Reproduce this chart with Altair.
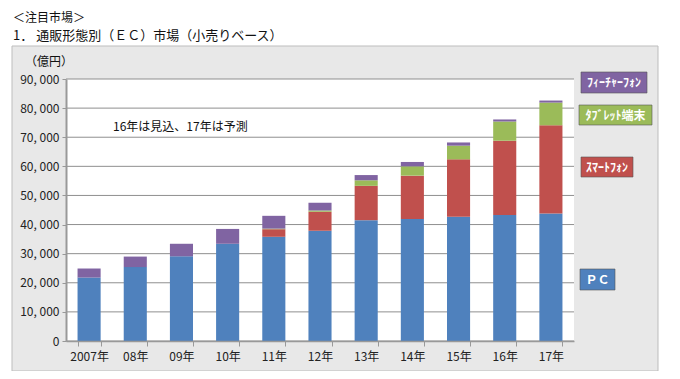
import altair as alt
import pandas as pd

years = ["2007年", "08年", "09年", "10年", "11年", "12年", "13年", "14年", "15年", "16年", "17年"]
pc = [21800, 25400, 29100, 33400, 35800, 37900, 41500, 41900, 42700, 43300, 43800]
smartphone = [0, 0, 0, 0, 2600, 6500, 11800, 14900, 19700, 25500, 30300]
tablet = [0, 0, 0, 0, 200, 400, 1900, 3200, 4700, 6600, 7800]
feature = [3100, 3600, 4300, 5100, 4400, 2700, 1800, 1500, 1100, 700, 700]
series = ["ＰＣ", "ｽﾏｰﾄﾌｫﾝ", "ﾀﾌﾞﾚｯﾄ端末", "ﾌｨｰﾁｬｰﾌｫﾝ"]
colors = ["#4F81BD", "#C0504D", "#9BBB59", "#8064A2"]
y_ticks = [0, 10000, 20000, 30000, 40000, 50000, 60000, 70000, 80000, 90000]

title1 = "＜注目市場＞"
title2 = "1． 通販形態別（ＥＣ）市場（小売りベース）"
unit = "（億円）"
note = "16年は見込、17年は予測"

FONT = "Noto Sans CJK JP"
W, H = 508, 262

rows = []
for i, y in enumerate(years):
    for j, (s, vals) in enumerate(zip(series, [pc, smartphone, tablet, feature])):
        rows.append({"year": y, "series": s, "value": vals[i], "order": j})
df = pd.DataFrame(rows)
gdf = pd.DataFrame({"value": y_ticks})

yscale = alt.Scale(domain=[0, 90000], nice=False, zero=True)
yaxis = alt.Axis(values=y_ticks, grid=False, tickSize=4, tickColor="#999",
                 domainColor="#999", domainWidth=2, labelPadding=3,
                 labelFont=FONT, labelFontSize=12, labelColor="#222",
                 labelExpr="replace(format(datum.value, ','), ',', ', ')", zindex=1)
one = pd.DataFrame({"k": [0]})

frame = alt.Chart(one).mark_rect(fill="#e8e8e8", stroke="#bdbdbd", strokeWidth=1).encode(
    x=alt.value(-54), x2=alt.value(592), y=alt.value(-33), y2=alt.value(292))
plotbg = alt.Chart(one).mark_rect(fill="white").encode(
    x=alt.value(0), x2=alt.value(W), y=alt.value(0), y2=alt.value(H))
grid = alt.Chart(gdf).mark_rule(color="#8f8f8f", strokeWidth=1).encode(
    y=alt.Y("value:Q", scale=yscale, axis=yaxis, title=None), x=alt.value(0), x2=alt.value(W))

bars = alt.Chart(df).mark_bar().encode(
    x=alt.X("year:N", sort=years, title=None,
            scale=alt.Scale(paddingInner=0.5, paddingOuter=0.25),
            axis=alt.Axis(labelAngle=0, tickBand="extent", tickSize=5, tickColor="#999",
                          domainColor="#999", domainWidth=1.5, labelPadding=5,
                          labelFont=FONT, labelFontSize=12, labelColor="#222", zindex=1)),
    y=alt.Y("value:Q", stack="zero", scale=yscale, title=None, axis=yaxis),
    color=alt.Color("series:N", scale=alt.Scale(domain=series, range=colors), legend=None),
    order=alt.Order("order:Q", sort="ascending"),
)

def label_box(text, color, x1, x2, y1, y2):
    d = pd.DataFrame({"t": [text]})
    box = alt.Chart(d).mark_rect(fill=color, stroke="#555", strokeWidth=0.6).encode(
        x=alt.value(x1), x2=alt.value(x2), y=alt.value(y1), y2=alt.value(y2))
    txt = alt.Chart(d).mark_text(font=FONT, fontSize=12, fontWeight="bold", color="white",
                                 align="center", baseline="middle").encode(
        text="t:N", x=alt.value((x1 + x2) / 2), y=alt.value((y1 + y2) / 2 + 0.5))
    return box + txt

legend = (label_box(series[3], colors[3], 515, 581, -7, 14)
          + label_box(series[2], colors[2], 513, 586, 26, 46)
          + label_box(series[1], colors[1], 515, 567, 78, 98)
          + label_box(series[0], colors[0], 514, 549, 190, 211))

def txt(s, x, y, size=12, align="left", baseline="middle"):
    return alt.Chart(pd.DataFrame({"t": [s]})).mark_text(
        font=FONT, fontSize=size, color="#111", align=align, baseline=baseline).encode(
        text="t:N", x=alt.value(x), y=alt.value(y))

texts = (txt(title1, -53, -61, 12) + txt(title2, -53, -43, 13)
         + txt(unit, -17, -17, 12, "center") + txt(note, 47, 48, 12))

chart = alt.layer(frame, plotbg, grid, bars, legend, texts).properties(
    width=W, height=H,
    padding={"left": 58, "top": 71, "right": 98, "bottom": 30},
    autosize=alt.AutoSizeParams(type="none"),
    background="white",
).configure_view(stroke=None)

chart.save("out.html", embed_options={"renderer": "svg", "actions": False})
